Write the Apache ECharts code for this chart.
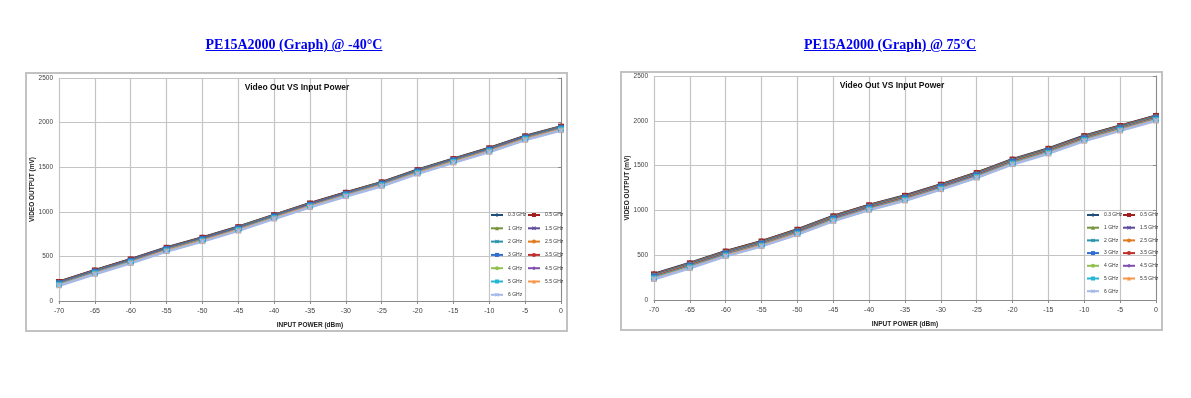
<!DOCTYPE html>
<html>
<head>
<meta charset="utf-8">
<script src="https://cdn.jsdelivr.net/npm/echarts@6/dist/echarts.min.js"></script>
<style>
html,body{margin:0;padding:0;background:#fff;}
#wrap{position:relative;width:1191px;height:398px;}
#chart{position:absolute;left:0;top:0;width:1191px;height:398px;}
.ttl{position:absolute;top:37px;height:18px;line-height:18px;text-align:center;font:bold 14px "Liberation Serif","Times New Roman",serif;color:#0000ee;text-decoration:underline;z-index:2;}
</style>
</head>
<body>
<div id="wrap">
<div id="chart"></div>
<div class="ttl" style="left:0;width:588px;">PE15A2000 (Graph) @ -40°C</div>
<div class="ttl" style="left:594px;width:592px;">PE15A2000 (Graph) @ 75°C</div>
</div>
<script>
// ---- data ----
const inputPower = [-70,-65,-60,-55,-50,-45,-40,-35,-30,-25,-20,-15,-10,-5,0];
const seriesNames = ['0.3 GHz','0.5 GHz','1 GHz','1.5 GHz','2 GHz','2.5 GHz','3 GHz','3.5 GHz','4 GHz','4.5 GHz','5 GHz','5.5 GHz','6 GHz'];
const yTicks = [0,500,1000,1500,2000,2500];

// -40 C
const cold_0_3 = [217,346,469,600,712,832,966,1096,1217,1333,1471,1595,1715,1850,1958];
const cold_0_5 = [213,342,466,596,709,828,962,1093,1213,1330,1467,1591,1712,1846,1954];
const cold_1   = [209,338,461,592,704,824,958,1088,1209,1325,1463,1587,1707,1842,1950];
const cold_1_5 = [205,334,457,588,701,820,954,1084,1205,1321,1459,1583,1703,1838,1946];
const cold_2   = [201,330,453,584,696,816,950,1080,1201,1317,1455,1579,1699,1834,1942];
const cold_2_5 = [193,322,445,576,688,808,942,1072,1193,1309,1447,1571,1691,1826,1934];
const cold_3   = [197,326,449,580,692,812,946,1076,1197,1313,1451,1575,1695,1830,1938];
const cold_3_5 = [191,320,443,574,686,806,940,1070,1191,1307,1445,1569,1689,1824,1932];
const cold_4   = [188,317,440,571,683,803,937,1067,1188,1304,1442,1566,1686,1821,1929];
const cold_4_5 = [185,314,437,568,680,800,934,1064,1185,1301,1439,1563,1683,1818,1926];
const cold_5   = [182,311,434,565,677,797,931,1061,1182,1298,1436,1560,1680,1815,1923];
const cold_5_5 = [178,307,430,561,673,793,927,1057,1178,1294,1432,1556,1676,1811,1919];
const cold_6   = [171,300,423,554,666,786,920,1050,1171,1287,1425,1549,1669,1804,1912];

// 75 C
const hot_0_3 = [290,413,545,657,788,938,1061,1166,1290,1421,1571,1691,1833,1946,2058];
const hot_0_5 = [286,409,541,653,784,934,1057,1162,1286,1417,1567,1687,1829,1942,2054];
const hot_1   = [281,404,536,648,779,929,1052,1157,1281,1412,1562,1682,1824,1937,2049];
const hot_1_5 = [276,399,531,643,774,924,1047,1152,1276,1407,1557,1677,1819,1932,2044];
const hot_2   = [271,394,526,638,769,919,1042,1147,1271,1402,1552,1672,1814,1927,2039];
const hot_2_5 = [265,388,520,632,763,913,1036,1141,1265,1396,1546,1666,1808,1921,2033];
const hot_3   = [261,384,516,628,759,909,1032,1137,1261,1392,1542,1662,1804,1917,2029];
const hot_3_5 = [257,380,512,624,755,905,1028,1133,1257,1388,1538,1658,1800,1913,2025];
const hot_4   = [252,375,507,619,750,900,1023,1128,1252,1383,1533,1653,1795,1908,2020];
const hot_4_5 = [247,370,502,614,745,895,1018,1123,1247,1378,1528,1648,1790,1903,2015];
const hot_5   = [242,365,497,609,740,890,1013,1118,1242,1373,1523,1643,1785,1898,2010];
const hot_5_5 = [238,361,493,605,736,886,1009,1114,1238,1369,1519,1639,1781,1894,2006];
const hot_6   = [232,355,487,599,730,880,1003,1108,1232,1363,1513,1633,1775,1888,2000];

const coldData = [cold_0_3,cold_0_5,cold_1,cold_1_5,cold_2,cold_2_5,cold_3,cold_3_5,cold_4,cold_4_5,cold_5,cold_5_5,cold_6];
const hotData  = [hot_0_3,hot_0_5,hot_1,hot_1_5,hot_2,hot_2_5,hot_3,hot_3_5,hot_4,hot_4_5,hot_5,hot_5_5,hot_6];

// ---- style ----
const colors = ['#1f4e79','#a0201e','#77933c','#604a9b','#2a93ad','#e07b20','#2f6fd0','#c0302b','#92c050','#7e4fb0','#25b5d5','#f79646','#a4b9e6'];
const X = 'path://M0,2L2,0L5,3L8,0L10,2L7,5L10,8L8,10L5,7L2,10L0,8L3,5Z';
const symbols = ['diamond','rect','triangle',X,X,'circle','rect','none','none','diamond','rect','triangle',X];
const FONT = '"Liberation Sans", Arial, sans-serif';

function axes(idx){
  const common = {
    gridIndex: idx,
    axisLine:{show:true,lineStyle:{color:'#8a8a8a',width:1}},
    axisTick:{show:true,inside:false,length:3,lineStyle:{color:'#8a8a8a'}},
    splitLine:{show:true,lineStyle:{color:'#c4c4c4',width:1.2}},
    axisLabel:{fontSize:7,color:'#404040',fontFamily:FONT,formatter:(v)=>String(v)},
    nameTextStyle:{fontSize:6.5,fontWeight:'bold',color:'#222',fontFamily:FONT}
  };
  return {
    x: Object.assign({}, common, {type:'value',min:-70,max:0,interval:5,name:'INPUT POWER (dBm)',nameLocation:'middle',nameGap:21,
        axisLabel:Object.assign({},common.axisLabel,{margin:7})}),
    y: Object.assign({}, common, {type:'value',min:yTicks[0],max:yTicks[yTicks.length-1],interval:500,name:'VIDEO OUTPUT (mV)',nameLocation:'middle',nameGap:23,nameRotate:90,nameMoveOverlap:false,
        axisLabel:Object.assign({},common.axisLabel,{margin:6,fontSize:6.5})})
  };
}
const a0 = axes(0), a1 = axes(1);

const series = [];
[coldData, hotData].forEach((set, ci) => {
  set.forEach((vals, si) => {
    series.push({
      type:'line', name: seriesNames[si], xAxisIndex: ci, yAxisIndex: ci,
      data: inputPower.map((x,i)=>[x, vals[i]]),
      symbol: symbols[si], symbolSize: 6, showSymbol: true,
      lineStyle:{width:2.5,color:colors[si]},
      itemStyle:{color:colors[si]},
      animation:false, silent:true
    });
  });
});

const col1 = seriesNames.filter((n,i)=>i%2===0);
const col2 = seriesNames.filter((n,i)=>i%2===1);
function legend(data,left,top,gap){
  return {data, orient:'vertical', left, top, itemWidth:12, itemHeight:5, itemGap:gap, selectedMode:false,
    textStyle:{fontSize:5,lineHeight:6,color:'#333',fontFamily:FONT}, padding:0};
}

const chart = echarts.init(document.getElementById('chart'), null, {renderer:'canvas'});
chart.setOption({
  backgroundColor:'#fff',
  color: colors,
  animation:false,
  title:[
    {text:'Video Out VS Input Power', left:297, top:83, textAlign:'center', textStyle:{fontSize:8.5,fontWeight:'bold',color:'#111',fontFamily:FONT}, padding:0},
    {text:'Video Out VS Input Power', left:892, top:81, textAlign:'center', textStyle:{fontSize:8.5,fontWeight:'bold',color:'#111',fontFamily:FONT}, padding:0}
  ],
  grid:[
    {left:59, right:630, top:78, bottom:97},
    {left:654, right:35, top:76, bottom:98}
  ],
  xAxis:[a0.x, a1.x],
  yAxis:[a0.y, a1.y],
  legend:[
    legend(col1,490,212,7.3), legend(col2,527,212,7.3),
    legend(col1,1086,212,6.7), legend(col2,1122,212,6.7)
  ],
  graphic:[
    {type:'rect', shape:{x:26,y:73,width:541,height:258}, style:{fill:'none',stroke:'#c2c2c2',lineWidth:2}, z:-1, silent:true},
    {type:'rect', shape:{x:621,y:72,width:541,height:258}, style:{fill:'none',stroke:'#c2c2c2',lineWidth:2}, z:-1, silent:true}
  ],
  series
});
</script>
</body>
</html>
